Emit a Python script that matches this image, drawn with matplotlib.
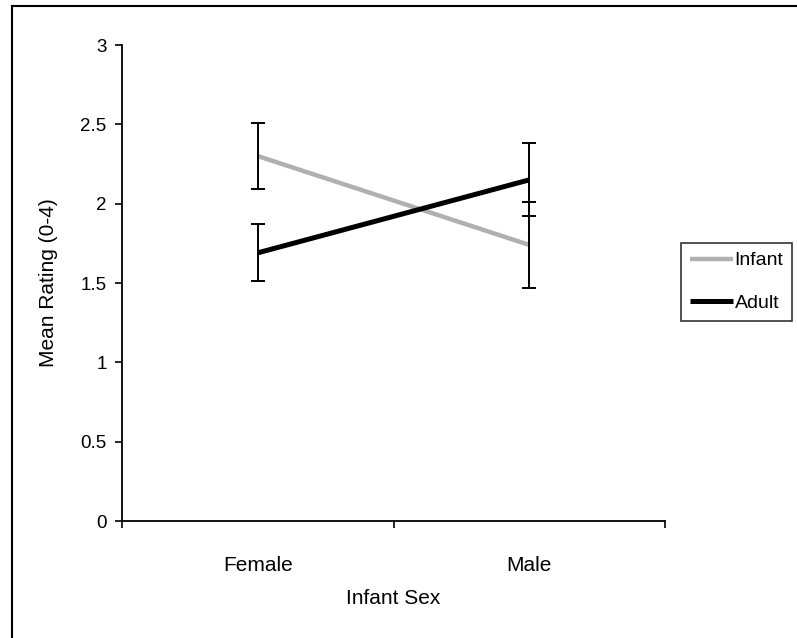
import matplotlib
matplotlib.use("Agg")
import matplotlib.pyplot as plt
from matplotlib.lines import Line2D

plt.rcParams['font.family'] = ['Liberation Sans', 'DejaVu Sans']

categories = ["Female", "Male"]
infant_mean = [2.30, 1.74]
infant_err = [0.21, 0.27]
adult_mean = [1.69, 2.15]
adult_err = [0.18, 0.23]
y_ticks = [0, 0.5, 1, 1.5, 2, 2.5, 3]
y_tick_labels = ["0", "0.5", "1", "1.5", "2", "2.5", "3"]

fig = plt.figure(figsize=(7.97, 6.38), dpi=100)
ax = fig.add_axes([122/797, 117/638, 543/797, 476/638])

x = list(range(len(categories)))
ax.plot(x, infant_mean, color='#b0b0b0', lw=3.2, solid_capstyle='butt', zorder=3, label='Infant')
ax.plot(x, adult_mean, color='black', lw=3.6, solid_capstyle='butt', zorder=4, label='Adult')
ax.errorbar(x, infant_mean, yerr=infant_err, fmt='none', ecolor='black', elinewidth=1.4,
            capsize=4.7, capthick=1.4, zorder=5)
ax.errorbar(x, adult_mean, yerr=adult_err, fmt='none', ecolor='black', elinewidth=1.4,
            capsize=4.7, capthick=1.4, zorder=5)

ax.set_xlim(-0.5, len(categories) - 0.5)
ax.set_ylim(0, 3)
ax.set_yticks(y_ticks)
ax.set_yticklabels(y_tick_labels, fontsize=13.5)
ax.set_xticks([i - 0.5 for i in range(len(categories) + 1)])
ax.set_xticklabels([])
ax.set_xticks(x, minor=True)
ax.set_xticklabels(categories, minor=True, fontsize=15)
ax.tick_params(axis='x', which='minor', length=0, pad=25)
ax.tick_params(axis='x', which='major', length=5, width=1.2, direction='out')
ax.tick_params(axis='y', length=5, width=1.2, direction='out', pad=6)

for s in ['top', 'right']:
    ax.spines[s].set_visible(False)
for s in ['left', 'bottom']:
    ax.spines[s].set_linewidth(1.3)

ax.set_xlabel("Infant Sex", fontsize=15, labelpad=10)
ax.set_ylabel("Mean Rating (0-4)", fontsize=15, labelpad=16)

leg = fig.legend(loc='upper left', bbox_to_anchor=(681/797, 1 - 243/638), fontsize=14,
                 frameon=True, fancybox=False, edgecolor='black', handlelength=2.2,
                 handletextpad=0.1, borderpad=0.45, labelspacing=1.3, borderaxespad=0)
leg.get_frame().set_linewidth(1.2)

# outer chart border (top and left visible)
fig.add_artist(Line2D([12/797, 12/797], [0, 1 - 6/638], transform=fig.transFigure, color='black', lw=1.5))
fig.add_artist(Line2D([12/797, 1], [1 - 6/638, 1 - 6/638], transform=fig.transFigure, color='black', lw=1.5))

fig.savefig("out.png", dpi=100)
